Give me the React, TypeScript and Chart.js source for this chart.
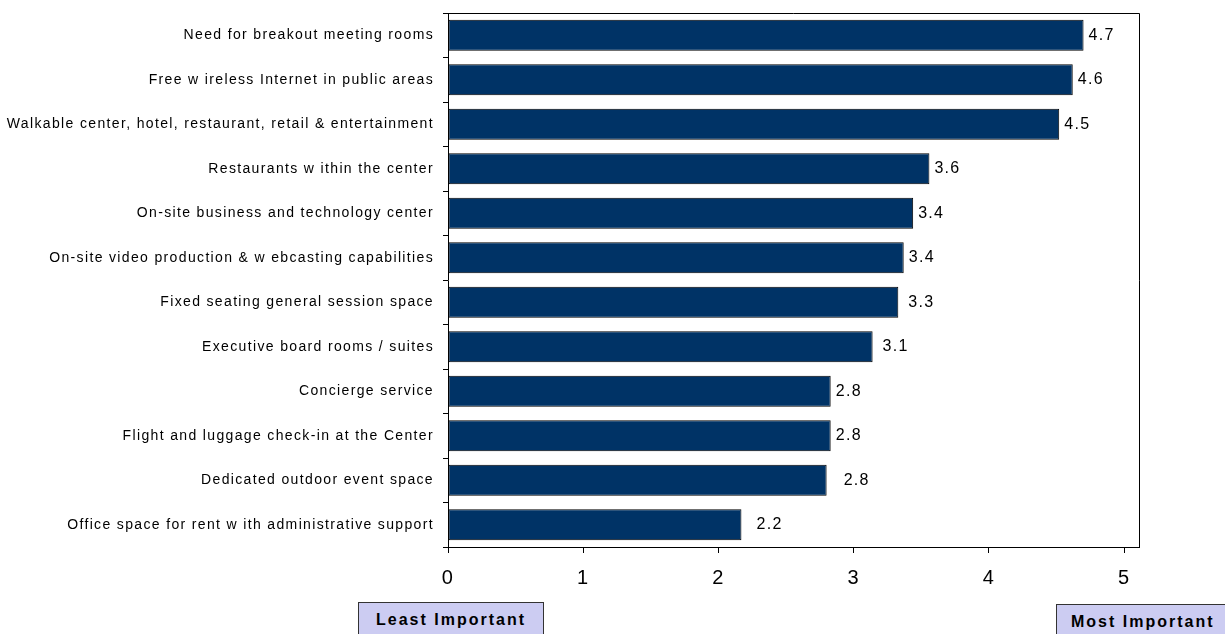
import React, { useEffect, useRef } from "react";
import { Chart, registerables } from "chart.js";

Chart.register(...registerables);

const categories = [
  "Need for breakout meeting rooms",
  "Free w ireless Internet in public areas",
  "Walkable center, hotel, restaurant, retail & entertainment",
  "Restaurants w ithin the center",
  "On-site business and technology center",
  "On-site video production & w ebcasting capabilities",
  "Fixed seating general session space",
  "Executive board rooms / suites",
  "Concierge service",
  "Flight and luggage check-in at the Center",
  "Dedicated outdoor event space",
  "Office space for rent w ith administrative support",
];
const values = [4.7, 4.62, 4.52, 3.56, 3.44, 3.37, 3.33, 3.14, 2.83, 2.83, 2.8, 2.17];
const valueLabels = ["4.7", "4.6", "4.5", "3.6", "3.4", "3.4", "3.3", "3.1", "2.8", "2.8", "2.8", "2.2"];
const xTicks = [0, 1, 2, 3, 4, 5];
const xMin = 0;
const xMax = 5.11;

// styling only
const labelGaps = [5, 5, 5, 5, 5, 5, 10, 10, 5, 5, 17, 15];
const FONT = "'Liberation Sans', Arial, sans-serif";

export default function App() {
  const ref = useRef<HTMLCanvasElement | null>(null);

  useEffect(() => {
    const canvas = ref.current;
    if (!canvas) return;

    const framePlugin = {
      id: "frame",
      beforeDraw(chart: any) {
        (chart.ctx as any).letterSpacing = "1.35px";
      },
      afterDatasetsDraw(chart: any) {
        const { ctx, chartArea } = chart;
        ctx.save();
        ctx.strokeStyle = "#000";
        ctx.lineWidth = 1;
        ctx.beginPath();
        ctx.moveTo(chartArea.left, chartArea.top + 0.5);
        ctx.lineTo(chartArea.right + 0.5, chartArea.top + 0.5);
        ctx.lineTo(chartArea.right + 0.5, chartArea.bottom);
        ctx.stroke();
        const meta = chart.getDatasetMeta(0);
        (ctx as any).letterSpacing = "1.3px";
        ctx.font = `16px ${FONT}`;
        ctx.fillStyle = "#000";
        ctx.textAlign = "left";
        ctx.textBaseline = "middle";
        meta.data.forEach((el: any, i: number) => {
          ctx.fillText(valueLabels[i], el.x + labelGaps[i], el.y);
        });
        ctx.restore();
      },
    };

    const chart = new Chart(canvas, {
      type: "bar",
      data: {
        labels: categories,
        datasets: [
          {
            data: values,
            backgroundColor: "#003366",
            borderColor: "#000",
            borderWidth: 1,
            borderSkipped: false,
            barPercentage: 0.7,
            categoryPercentage: 1,
          },
        ],
      },
      options: {
        indexAxis: "y",
        animation: false,
        responsive: false,
        maintainAspectRatio: false,
        layout: { padding: { left: 0, top: 13, right: 86, bottom: 0 } },
        plugins: { legend: { display: false }, tooltip: { enabled: false } },
        scales: {
          x: {
            min: xMin,
            max: xMax,
            afterBuildTicks(scale: any) {
              scale.ticks = xTicks.map((v) => ({ value: v }));
            },
            afterFit(scale: any) {
              scale.height = 634 - 547;
              scale.paddingLeft = 0;
              scale.paddingRight = 0;
            },
            border: { display: true, color: "#000", width: 1 },
            grid: {
              display: true,
              drawOnChartArea: false,
              drawTicks: true,
              tickLength: 6,
              color: "#000",
            },
            ticks: {
              color: "#000",
              font: { family: FONT, size: 20 },
              padding: 13,
              maxRotation: 0,
              autoSkip: false,
            },
          },
          y: {
            afterFit(scale: any) {
              scale.width = 448;
              scale.paddingTop = 0;
              scale.paddingBottom = 0;
            },
            border: { display: true, color: "#000", width: 1 },
            grid: {
              display: true,
              offset: true,
              drawOnChartArea: false,
              drawTicks: true,
              tickLength: 5,
              color: "#000",
            },
            ticks: {
              color: "#000",
              font: { family: FONT, size: 14 },
              padding: 9,
              autoSkip: false,
            },
          },
        },
      },
      plugins: [framePlugin],
    } as any);

    return () => chart.destroy();
  }, []);

  const boxStyle: React.CSSProperties = {
    position: "absolute",
    background: "#ccccf2",
    border: "1px solid #333",
    fontFamily: FONT,
    fontWeight: "bold",
    fontSize: 16,
    letterSpacing: "2px",
    color: "#000",
    boxSizing: "border-box",
    display: "flex",
    alignItems: "flex-start",
    justifyContent: "center",
    paddingTop: 8,
  };

  return (
    <div style={{ position: "absolute", left: 0, top: 0, width: 1225, height: 634, overflow: "hidden", background: "#fff" }}>
      <canvas ref={ref} width={1225} height={634} style={{ position: "absolute", left: 0, top: 0 }} />
      <div style={{ ...boxStyle, left: 358, top: 602, width: 186, height: 50 }}>Least Important</div>
      <div style={{ ...boxStyle, left: 1056, top: 604, width: 172, height: 50, justifyContent: "flex-start", paddingLeft: 14 }}>Most Important</div>
    </div>
  );
}
